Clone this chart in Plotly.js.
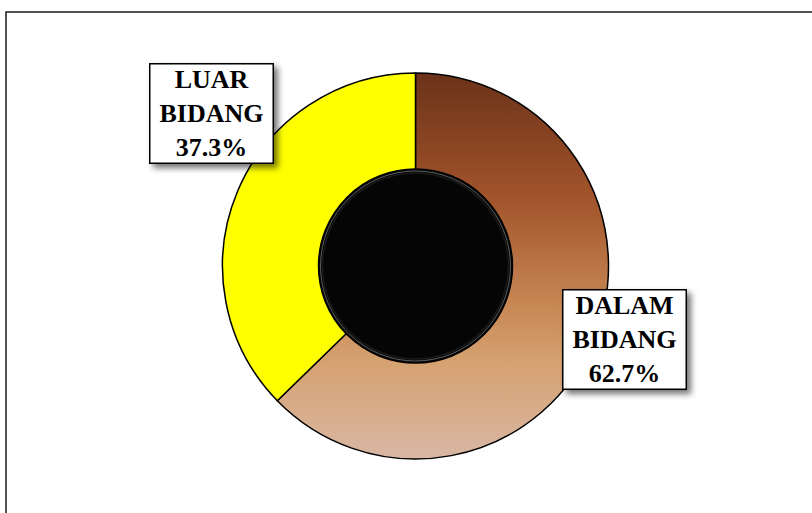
<!DOCTYPE html>
<html>
<head>
<meta charset="utf-8">
<script src="https://cdn.plot.ly/plotly-3.0.1.min.js"></script>
<style>
  html, body { margin: 0; padding: 0; background: #fff; }
  #chart { width: 812px; height: 513px; }
  .annotation-text-g rect.bg { filter: drop-shadow(4px 4px 3px rgba(0,0,0,0.55)); }
</style>
</head>
<body>
<div id="chart"></div>
<script>
// ---- data ----
const categories = ["DALAM BIDANG", "LUAR BIDANG"];
const percentages = [62.7, 37.3];
const sliceColors = ["#a3552b", "#ffff00"];

// ---- layout helpers (pixels -> paper, margins are zero) ----
const W = 812, H = 513;
const cx = 415.5, cy = 266, R = 193, innerR = 97;
const px = x => x / W;
const py = y => 1 - y / H;

const trace = {
  type: "pie",
  labels: categories,
  values: percentages,
  sort: false,
  direction: "clockwise",
  rotation: 0,
  hole: 0.46,
  textinfo: "none",
  hoverinfo: "label+percent",
  marker: { colors: sliceColors, line: { color: "#000", width: 1.5 } },
  domain: { x: [px(cx - R), px(cx + R)], y: [py(cy + R), py(cy - R)] },
  showlegend: false
};

const fmt = (lab, v) => lab.split(" ").join("<br>") + "<br>" + v.toFixed(1) + "%";
const labelFont = { family: "Liberation Serif, Times New Roman, serif", size: 26, color: "#000", weight: "bold" };
const annBase = {
  xref: "paper", yref: "paper", showarrow: false,
  xanchor: "center", yanchor: "middle",
  bgcolor: "#fff", bordercolor: "#000", borderwidth: 1.5, borderpad: 1,
  width: 120, height: 96, font: labelFont, align: "center", valign: "middle"
};

const circle = (r, fill, line, lw) => ({
  type: "circle", xref: "paper", yref: "paper",
  xsizemode: "pixel", ysizemode: "pixel",
  xanchor: px(cx), yanchor: py(cy),
  x0: -r, x1: r, y0: -r, y1: r,
  fillcolor: fill, line: { color: line, width: lw }, layer: "above"
});

const layout = {
  width: W, height: H,
  margin: { l: 0, r: 0, t: 0, b: 0 },
  paper_bgcolor: "#fff",
  shapes: [
    { type: "rect", xref: "paper", yref: "paper", x0: px(6), x1: 1.05, y0: -0.05, y1: py(12),
      line: { color: "#1a1a1a", width: 1.5 }, fillcolor: "rgba(0,0,0,0)", layer: "below" },
    circle(innerR, "#050505", "#000", 1.5),
    circle(innerR - 2, "rgba(0,0,0,0)", "rgba(255,255,255,0.35)", 1),
    circle(innerR - 4, "rgba(0,0,0,0)", "rgba(40,40,40,0.6)", 1.5)
  ],
  annotations: [
    Object.assign({}, annBase, { x: px(624.5), y: py(339), text: fmt(categories[0], percentages[0]) }),
    Object.assign({}, annBase, { x: px(211), y: py(113), text: fmt(categories[1], percentages[1]) })
  ]
};

Plotly.newPlot("chart", [trace], layout, { displayModeBar: false, staticPlot: true }).then(gd => {
  const svg = gd.querySelector("svg.main-svg");
  const ns = "http://www.w3.org/2000/svg";
  let defs = svg.querySelector("defs");
  if (!defs) { defs = document.createElementNS(ns, "defs"); svg.insertBefore(defs, svg.firstChild); }
  const grad = document.createElementNS(ns, "linearGradient");
  grad.setAttribute("id", "brownGrad");
  grad.setAttribute("x1", "0"); grad.setAttribute("y1", "0");
  grad.setAttribute("x2", "0"); grad.setAttribute("y2", "1");
  [["0", "#6b3219"], ["0.33", "#a3552b"], ["0.62", "#c98b58"], ["0.75", "#d6a271"], ["1", "#d9b7a4"]].forEach(([o, c]) => {
    const s = document.createElementNS(ns, "stop");
    s.setAttribute("offset", o); s.setAttribute("stop-color", c);
    grad.appendChild(s);
  });
  defs.appendChild(grad);
  const paths = gd.querySelectorAll(".pielayer .slice path.surface");
  if (paths.length) paths[0].style.fill = "url(#brownGrad)";
});
</script>
</body>
</html>
